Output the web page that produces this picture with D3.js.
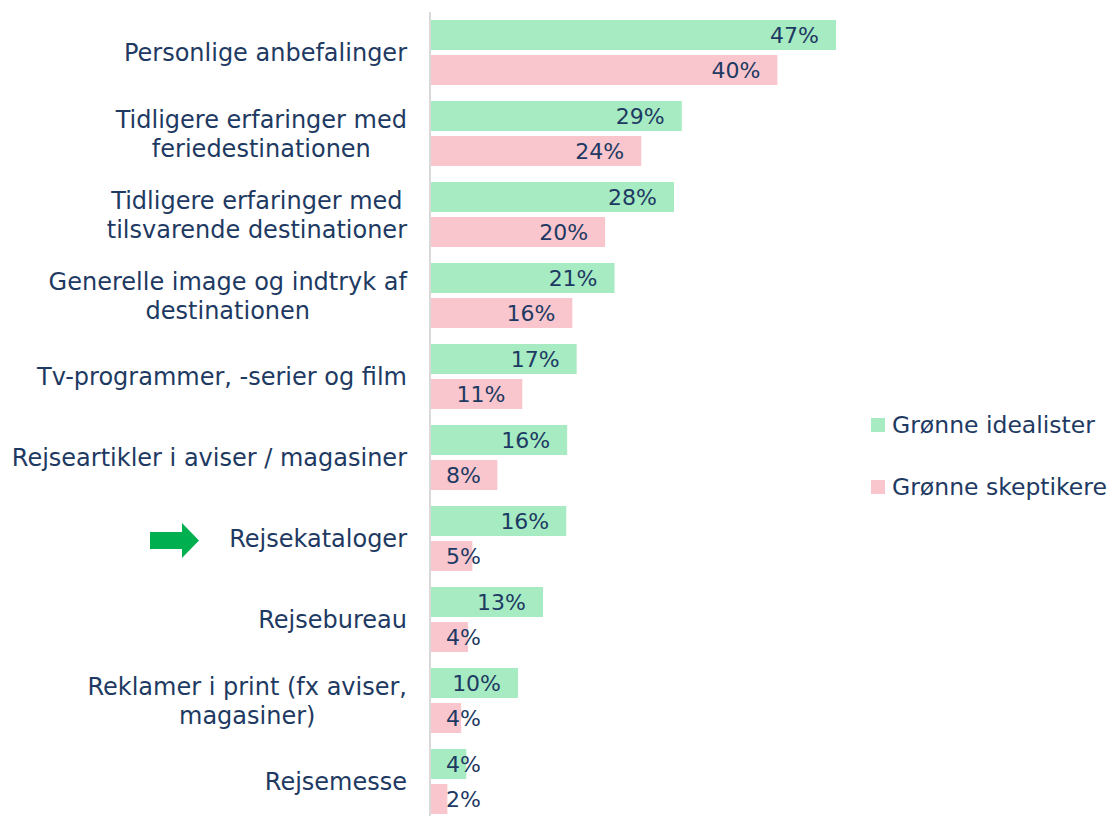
<!DOCTYPE html>
<html>
<head>
<meta charset="utf-8">
<script src="https://cdn.jsdelivr.net/npm/d3@7"></script>
<style>
  body { margin: 0; background: #fff; }
  svg { display: block; font-family: "DejaVu Sans", sans-serif; }
</style>
</head>
<body>
<svg class="chart" width="1117" height="816"></svg>
<script>
// categories (each entry = lines of the label)
var categories = [
    ["Personlige anbefalinger"],
    ["Tidligere erfaringer med", "feriedestinationen"],
    ["Tidligere erfaringer med", "tilsvarende destinationer"],
    ["Generelle image og indtryk af", "destinationen"],
    ["Tv-programmer, -serier og film"],
    ["Rejseartikler i aviser / magasiner"],
    ["Rejsekataloger"],
    ["Rejsebureau"],
    ["Reklamer i print (fx aviser,", "magasiner)"],
    ["Rejsemesse"]
];
var seriesNames = ["Grønne idealister", "Grønne skeptikere"];
var idealister = [47, 29.1, 28.2, 21.3, 16.9, 15.8, 15.7, 13.0, 10.1, 4.1];
var skeptikere = [40.2, 24.4, 20.2, 16.4, 10.6, 7.7, 4.8, 4.3, 3.5, 1.9];
var highlighted = "Rejsekataloger";

var colors = ["#A6EBC2", "#F9C6CE"];
var textColor = "#1E3A62";

var data = categories.map(function (c, i) {
    return { name: c.join(" "), lines: c, values: [idealister[i], skeptikere[i]] };
});

var svg = d3.select(".chart");

var y = d3.scaleBand()
    .domain(data.map(function (d) { return d.name; }))
    .range([12, 822])
    .paddingInner(16 / 81)
    .paddingOuter(8 / 81);

var y1 = d3.scaleBand()
    .domain([0, 1])
    .range([0, y.bandwidth()])
    .paddingInner(5 / 35);

var x = d3.scaleLinear()
    .domain([0, 47])
    .range([431, 836]);

// bars
var group = svg.selectAll("g.group")
    .data(data)
    .enter().append("g")
    .attr("class", "group")
    .attr("transform", function (d) { return "translate(0," + y(d.name) + ")"; });

var bar = group.selectAll("g.bar")
    .data(function (d) { return d.values; })
    .enter().append("g")
    .attr("class", "bar");

bar.append("rect")
    .attr("x", x(0))
    .attr("y", function (d, i) { return y1(i); })
    .attr("width", function (d) { return x(d) - x(0); })
    .attr("height", y1.bandwidth())
    .attr("fill", function (d, i) { return colors[i]; });

bar.append("text")
    .attr("y", function (d, i) { return y1(i) + y1.bandwidth() / 2; })
    .attr("dy", ".36em")
    .attr("fill", textColor)
    .style("font-size", "22px")
    .text(function (d) { return Math.round(d) + "%"; })
    .attr("x", function (d) {
        var w = this.getComputedTextLength();
        return Math.max(x(d) - 17 - w, x(0) + 15);
    });

// axis line
svg.append("line")
    .attr("x1", 430).attr("x2", 430)
    .attr("y1", 12).attr("y2", 816)
    .attr("stroke", "#D9D9D9")
    .attr("stroke-width", 2);

// category labels, centred lines, right aligned block
var lineH = 29;
var label = svg.selectAll("text.cat")
    .data(data)
    .enter().append("text")
    .attr("class", "cat")
    .attr("fill", textColor)
    .style("font-size", "24px")
    .attr("text-anchor", "middle");

label.each(function (d) {
    var t = d3.select(this);
    var cy = y(d.name) + y.bandwidth() / 2;
    var top = cy - (d.lines.length - 1) * lineH / 2;
    d.lines.forEach(function (l, i) {
        t.append("tspan")
            .attr("y", top + i * lineH)
            .attr("dy", ".36em")
            .text(l);
    });
    var maxW = 0;
    t.selectAll("tspan").each(function () {
        maxW = Math.max(maxW, this.getComputedTextLength());
    });
    t.selectAll("tspan").attr("x", 407 - maxW / 2);
});

// arrow for highlighted category
var ay = y(highlighted) + y.bandwidth() / 2 + 2;
svg.append("path")
    .attr("d", "M150," + (ay - 8.5) + "H182V" + (ay - 17.5) + "L199," + ay +
        "L182," + (ay + 17.5) + "V" + (ay + 8.5) + "H150Z")
    .attr("fill", "#00B050");

// legend
var legend = svg.selectAll("g.legend")
    .data(seriesNames)
    .enter().append("g")
    .attr("class", "legend")
    .attr("transform", function (d, i) { return "translate(871," + (425 + i * 62) + ")"; });

legend.append("rect")
    .attr("x", 0)
    .attr("y", -7)
    .attr("width", 14)
    .attr("height", 14)
    .attr("fill", function (d, i) { return colors[i]; });

legend.append("text")
    .attr("x", 21)
    .attr("dy", ".36em")
    .attr("fill", textColor)
    .style("font-size", "23.5px")
    .text(function (d) { return d; });
</script>
</body>
</html>
